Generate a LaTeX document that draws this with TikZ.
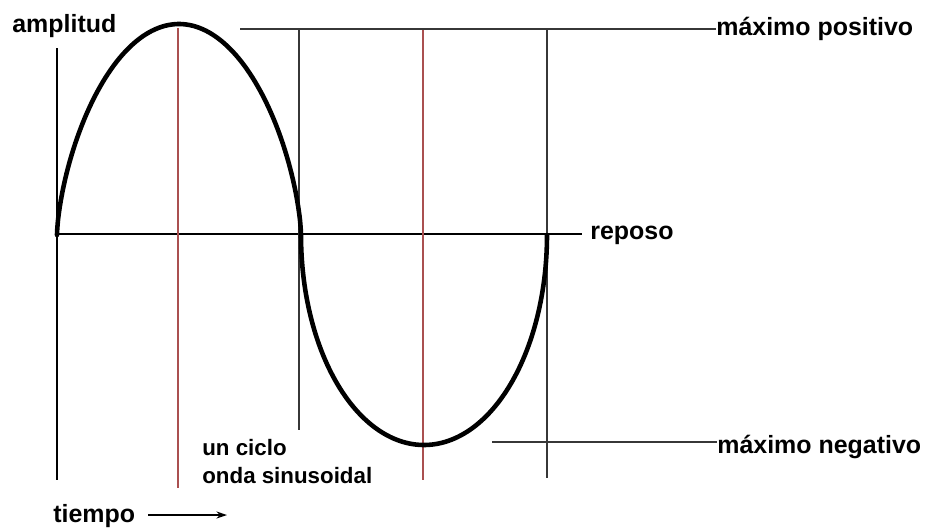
\documentclass[tikz,border=0pt]{standalone}
\usepackage{fontspec}
\setmainfont{Liberation Sans}
\usetikzlibrary{arrows.meta}

\definecolor{guidered}{RGB}{170,80,80}
\definecolor{guidegray}{RGB}{55,55,55}

\tikzset{
    lbl/.style={font=\bfseries\fontsize{14.2}{16}\selectfont, inner sep=0pt, anchor=base west},
    smalllbl/.style={font=\bfseries\fontsize{12.7}{15}\selectfont, inner sep=0pt, anchor=base west},
    wave/.style={line width=2.6pt, line cap=round, line join=round},
    redguide/.style={guidered, line width=0.6pt},
    grayguide/.style={guidegray, line width=0.8pt}
}

\begin{document}
\begin{tikzpicture}[x=0.02cm, y=-0.02cm]
        \useasboundingbox (0,0) rectangle (925,529);

        % Labels
        \node[lbl] (amp) at (12,32) {amplitud};
        \node[lbl] (maxpos) at (716,35) {máximo positivo};
        \node[lbl] (rep) at (590,239) {reposo};
        \node[lbl] (maxneg) at (717,453) {máximo negativo};
        \node[smalllbl] (ciclo) at (202,455) {un ciclo};
        \node[smalllbl] (onda) at (202,483) {onda sinusoidal};
        \node[lbl] (tiempo) at (53,522) {tiempo};

        % Axes
        \coordinate (o) at (57,234);
        \coordinate (top) at (57,48);
        \coordinate (bot) at (57,480);
        \draw[line width=1.6pt] (top) -- (bot);
        \draw[line width=1.3pt] (o) -- ([xshift=-8*0.02cm] rep.west |- o);

        % Guide lines
        \draw[redguide] (178,28) -- (178,488);
        \draw[redguide] (423,29) -- (423,480);
        \draw[grayguide] (299,29) -- (299,430);
        \draw[grayguide] (547,29) -- (547,478);
        \draw[grayguide] (240,29) -- (maxpos.west |- 0,29);
        \draw[grayguide] (492,442) -- (maxneg.west |- 0,442);

        % Sine wave
        \draw[wave] plot[variable=\t, domain=0:180, samples=120] ({179-122*cos(\t)}, {235-211*sin(\t)^1.3})
            -- plot[variable=\t, domain=0:180, samples=120] ({424-123*cos(\t)}, {235+210*sin(\t)});

        % Time arrow
        \coordinate (tstart) at (148,515);
        \coordinate (tend) at (227,515);
        \draw[line width=1.1pt, -{Stealth[length=6pt, width=4pt]}] (tstart) -- (tend);
\end{tikzpicture}
\end{document}
